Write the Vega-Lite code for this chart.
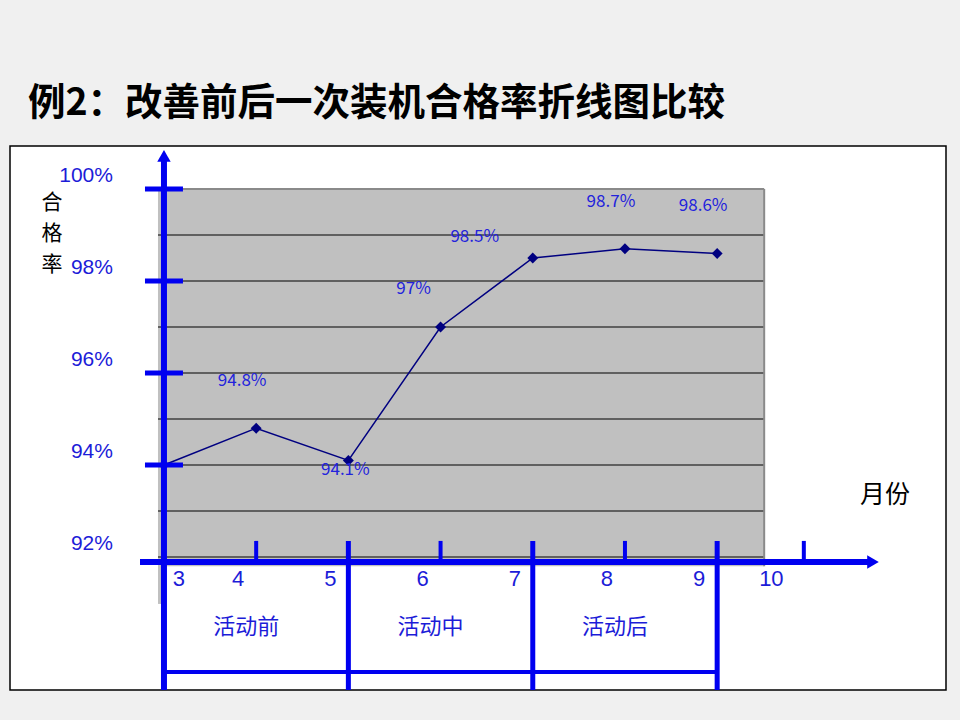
{
  "$schema": "https://vega.github.io/schema/vega-lite/v6.json",
  "width": 936,
  "height": 544,
  "autosize": {"type": "none"},
  "padding": {"left": 10, "top": 146, "right": 14, "bottom": 30},
  "background": "#f0f0f0",
  "title": {
    "text": "例2：改善前后一次装机合格率折线图比较",
    "anchor": "start",
    "frame": "group",
    "dx": 18,
    "offset": 24,
    "fontSize": 37.5,
    "fontWeight": "bold",
    "color": "black",
    "font": "Noto Sans CJK SC"
  },
  "datasets": {
    "rate": [
      {"month": 3, "rate": 94.0, "label": ""},
      {"month": 4, "rate": 94.8, "label": "94.8%"},
      {"month": 5, "rate": 94.1, "label": "94.1%"},
      {"month": 6, "rate": 97.0, "label": "97%"},
      {"month": 7, "rate": 98.5, "label": "98.5%"},
      {"month": 8, "rate": 98.7, "label": "98.7%"},
      {"month": 9, "rate": 98.6, "label": "98.6%"}
    ],
    "grid": [{"v": 92}, {"v": 93}, {"v": 94}, {"v": 95}, {"v": 96}, {"v": 97}, {"v": 98}, {"v": 99}],
    "yTicks": [{"v": 94}, {"v": 96}, {"v": 98}, {"v": 100}],
    "yLabels": [
      {"v": 100, "t": "100%"},
      {"v": 98, "t": "98%"},
      {"v": 96, "t": "96%"},
      {"v": 94, "t": "94%"},
      {"v": 92, "t": "92%"}
    ],
    "months": [
      {"month": 3, "t": "3"}, {"month": 4, "t": "4"}, {"month": 5, "t": "5"}, {"month": 6, "t": "6"},
      {"month": 7, "t": "7"}, {"month": 8, "t": "8"}, {"month": 9, "t": "9"}, {"month": 10, "t": "10"}
    ],
    "shortTicks": [{"month": 4}, {"month": 6}, {"month": 8}, {"month": 9.94}],
    "dividers": [{"month": 5}, {"month": 7}, {"month": 9}],
    "phases": [
      {"month": 4, "phase": "活动前"},
      {"month": 6, "phase": "活动中"},
      {"month": 8, "phase": "活动后"}
    ],
    "yTitle": [
      {"v": 99.696, "c": "合"},
      {"v": 99.022, "c": "格"},
      {"v": 98.348, "c": "率"}
    ],
    "one": [{}]
  },
  "layer": [
    {
      "data": {"name": "one"},
      "mark": {"type": "rect", "fill": "#c0c0c0"},
      "encoding": {
        "x": {"datum": 2.935, "type": "quantitative", "scale": {"domain": [1.33, 11.482], "nice": false, "zero": false}},
        "x2": {"datum": 9.51},
        "y": {"datum": 91.8, "type": "quantitative", "scale": {"domain": [89.109, 100.935], "nice": false, "zero": false}},
        "y2": {"datum": 100}
      }
    },
    {
      "data": {"name": "one"},
      "mark": {"type": "rect", "fill": "#c0c0c0"},
      "encoding": {
        "x": {"datum": 2.935, "type": "quantitative"},
        "x2": {"datum": 3},
        "y": {"datum": 90.98, "type": "quantitative"},
        "y2": {"datum": 92}
      }
    },
    {
      "data": {"name": "grid"},
      "mark": {"type": "rule", "color": "black", "strokeWidth": 1.2},
      "encoding": {
        "y": {"field": "v", "type": "quantitative"},
        "x": {"datum": 2.935, "type": "quantitative"},
        "x2": {"datum": 9.51}
      }
    },
    {
      "data": {"name": "one"},
      "mark": {"type": "rule", "color": "#8a8a8a", "strokeWidth": 2},
      "encoding": {
        "y": {"datum": 100, "type": "quantitative"},
        "x": {"datum": 2.935, "type": "quantitative"},
        "x2": {"datum": 9.51}
      }
    },
    {
      "data": {"name": "one"},
      "mark": {"type": "rule", "color": "#8a8a8a", "strokeWidth": 2},
      "encoding": {
        "x": {"datum": 9.51, "type": "quantitative"},
        "y": {"datum": 91.8, "type": "quantitative"},
        "y2": {"datum": 100}
      }
    },
    {
      "data": {"name": "rate"},
      "mark": {"type": "line", "color": "#000080", "strokeWidth": 1.5},
      "encoding": {
        "x": {"field": "month", "type": "quantitative"},
        "y": {"field": "rate", "type": "quantitative"}
      }
    },
    {
      "data": {"name": "rate"},
      "mark": {"type": "point", "shape": "diamond", "filled": true, "color": "#000080", "size": 120, "opacity": 1},
      "encoding": {
        "x": {"field": "month", "type": "quantitative"},
        "y": {"field": "rate", "type": "quantitative"}
      }
    },
    {
      "data": {"name": "one"},
      "mark": {"type": "rule", "color": "#0000f0", "strokeWidth": 6},
      "encoding": {
        "x": {"datum": 3, "type": "quantitative"},
        "y": {"datum": 100.72, "type": "quantitative"},
        "y2": {"datum": 89.109}
      }
    },
    {
      "data": {"name": "one"},
      "mark": {"type": "point", "shape": "triangle-up", "filled": true, "color": "#0000f0", "size": 180, "opacity": 1},
      "encoding": {
        "x": {"datum": 3, "type": "quantitative"},
        "y": {"datum": 100.72, "type": "quantitative"}
      }
    },
    {
      "data": {"name": "one"},
      "mark": {"type": "rule", "color": "#0000f0", "strokeWidth": 6},
      "encoding": {
        "y": {"datum": 91.89, "type": "quantitative"},
        "x": {"datum": 2.74, "type": "quantitative"},
        "x2": {"datum": 10.64}
      }
    },
    {
      "data": {"name": "one"},
      "mark": {"type": "point", "shape": "triangle-right", "filled": true, "color": "#0000f0", "size": 180, "opacity": 1},
      "encoding": {
        "x": {"datum": 10.69, "type": "quantitative"},
        "y": {"datum": 91.89, "type": "quantitative"}
      }
    },
    {
      "data": {"name": "yTicks"},
      "mark": {"type": "rule", "color": "#0000f0", "strokeWidth": 5},
      "encoding": {
        "y": {"field": "v", "type": "quantitative"},
        "x": {"datum": 2.794, "type": "quantitative"},
        "x2": {"datum": 3.206}
      }
    },
    {
      "data": {"name": "shortTicks"},
      "mark": {"type": "rule", "color": "#0000f0", "strokeWidth": 4},
      "encoding": {
        "x": {"field": "month", "type": "quantitative"},
        "y": {"datum": 92.35, "type": "quantitative"},
        "y2": {"datum": 91.89}
      }
    },
    {
      "data": {"name": "dividers"},
      "mark": {"type": "rule", "color": "#0000f0", "strokeWidth": 5},
      "encoding": {
        "x": {"field": "month", "type": "quantitative"},
        "y": {"datum": 92.35, "type": "quantitative"},
        "y2": {"datum": 89.109}
      }
    },
    {
      "data": {"name": "one"},
      "mark": {"type": "rule", "color": "#0000f0", "strokeWidth": 4},
      "encoding": {
        "y": {"datum": 89.5, "type": "quantitative"},
        "x": {"datum": 3, "type": "quantitative"},
        "x2": {"datum": 9}
      }
    },
    {
      "data": {"name": "rate"},
      "transform": [{"filter": "datum.label == '94.8%' || datum.label == '98.7%' || datum.label == '98.6%'"}],
      "mark": {"type": "text", "color": "#2323dc", "fontSize": 17, "baseline": "middle", "dx": -14, "dy": -47},
      "encoding": {
        "x": {"field": "month", "type": "quantitative"},
        "y": {"field": "rate", "type": "quantitative"},
        "text": {"field": "label"}
      }
    },
    {
      "data": {"name": "rate"},
      "transform": [{"filter": "datum.label == '94.1%'"}],
      "mark": {"type": "text", "color": "#2323dc", "fontSize": 17, "baseline": "middle", "dx": -3, "dy": 10},
      "encoding": {
        "x": {"field": "month", "type": "quantitative"},
        "y": {"field": "rate", "type": "quantitative"},
        "text": {"field": "label"}
      }
    },
    {
      "data": {"name": "rate"},
      "transform": [{"filter": "datum.label == '97%'"}],
      "mark": {"type": "text", "color": "#2323dc", "fontSize": 17, "baseline": "middle", "dx": -27, "dy": -38},
      "encoding": {
        "x": {"field": "month", "type": "quantitative"},
        "y": {"field": "rate", "type": "quantitative"},
        "text": {"field": "label"}
      }
    },
    {
      "data": {"name": "rate"},
      "transform": [{"filter": "datum.label == '98.5%'"}],
      "mark": {"type": "text", "color": "#2323dc", "fontSize": 17, "baseline": "middle", "dx": -58, "dy": -21},
      "encoding": {
        "x": {"field": "month", "type": "quantitative"},
        "y": {"field": "rate", "type": "quantitative"},
        "text": {"field": "label"}
      }
    },
    {
      "data": {"name": "months"},
      "transform": [{"filter": "datum.month > 3 && datum.month < 10"}],
      "mark": {"type": "text", "color": "#1c1cd8", "fontSize": 22, "font": "Liberation Sans", "baseline": "middle", "dx": -18},
      "encoding": {
        "x": {"field": "month", "type": "quantitative"},
        "y": {"datum": 91.52, "type": "quantitative"},
        "text": {"field": "t"}
      }
    },
    {
      "data": {"name": "months"},
      "transform": [{"filter": "datum.month == 3"}],
      "mark": {"type": "text", "color": "#1c1cd8", "fontSize": 22, "font": "Liberation Sans", "baseline": "middle", "dx": 15},
      "encoding": {
        "x": {"field": "month", "type": "quantitative"},
        "y": {"datum": 91.52, "type": "quantitative"},
        "text": {"field": "t"}
      }
    },
    {
      "data": {"name": "months"},
      "transform": [{"filter": "datum.month == 10"}],
      "mark": {"type": "text", "color": "#1c1cd8", "fontSize": 22, "font": "Liberation Sans", "baseline": "middle", "dx": -38},
      "encoding": {
        "x": {"field": "month", "type": "quantitative"},
        "y": {"datum": 91.52, "type": "quantitative"},
        "text": {"field": "t"}
      }
    },
    {
      "data": {"name": "phases"},
      "mark": {"type": "text", "color": "#1c1cd8", "fontSize": 22, "baseline": "middle", "dx": -10},
      "encoding": {
        "x": {"field": "month", "type": "quantitative"},
        "y": {"datum": 90.48, "type": "quantitative"},
        "text": {"field": "phase"}
      }
    },
    {
      "data": {"name": "yLabels"},
      "mark": {"type": "text", "color": "#1c1cd8", "fontSize": 21, "font": "Liberation Sans", "align": "right", "baseline": "middle", "dx": -51, "dy": -13},
      "encoding": {
        "x": {"datum": 3, "type": "quantitative"},
        "y": {"field": "v", "type": "quantitative"},
        "text": {"field": "t"}
      }
    },
    {
      "data": {"name": "yTitle"},
      "mark": {"type": "text", "color": "black", "fontSize": 21, "baseline": "middle"},
      "encoding": {
        "x": {"datum": 1.786, "type": "quantitative"},
        "y": {"field": "v", "type": "quantitative"},
        "text": {"field": "c"}
      }
    },
    {
      "data": {"name": "one"},
      "mark": {"type": "text", "color": "black", "fontSize": 25, "baseline": "middle"},
      "encoding": {
        "x": {"datum": 10.82, "type": "quantitative"},
        "y": {"datum": 93.35, "type": "quantitative"},
        "text": {"value": "月份"}
      }
    }
  ],
  "config": {
    "font": "Noto Sans CJK SC",
    "axis": {"disable": true},
    "view": {"fill": "white", "stroke": "black", "strokeWidth": 1.5}
  }
}
